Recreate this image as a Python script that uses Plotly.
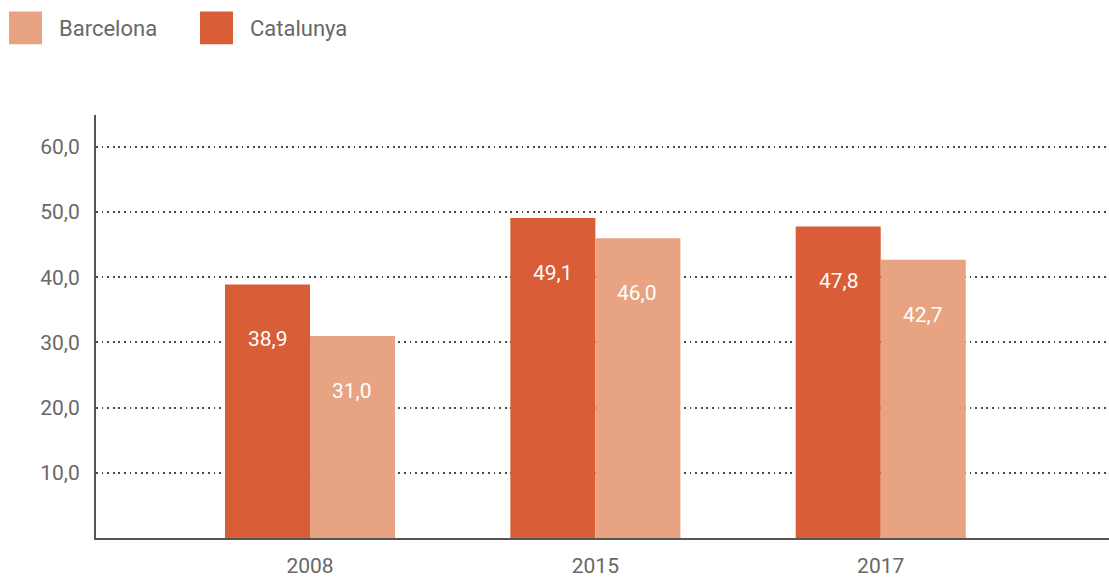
import plotly.graph_objects as go

years = ["2008", "2015", "2017"]
catalunya = [38.9, 49.1, 47.8]
barcelona = [31.0, 46.0, 42.7]
series_names = ["Barcelona", "Catalunya"]
y_ticks = [10, 20, 30, 40, 50, 60]

C_DARK = "#D95D37"
C_LIGHT = "#E8A382"
FONT = "Roboto, Open Sans, sans-serif"
GREY = "#686868"

W, H = 1109, 578
L, T, B = 96, 115, 578 - 540
PW, PH = W - L, H - T - B


def px(xp):
    return (xp - L) / PW


def py(yp):
    return 1 - (yp - T) / PH


fig = go.Figure()
fig.add_trace(go.Bar(x=years, y=catalunya, name="Catalunya", marker_color=C_DARK,
                     marker_line_width=0, showlegend=False))
fig.add_trace(go.Bar(x=years, y=barcelona, name="Barcelona", marker_color=C_LIGHT,
                     marker_line_width=0, showlegend=False))

annotations = []
for i, v in enumerate(catalunya):
    annotations.append(dict(x=i, y=v, xref="x", yref="y", text=f"{v:.1f}".replace(".", ","),
                            showarrow=False, xshift=-42, yshift=-55,
                            font=dict(family=FONT, size=21, color="white")))
for i, v in enumerate(barcelona):
    annotations.append(dict(x=i, y=v, xref="x", yref="y", text=f"{v:.1f}".replace(".", ","),
                            showarrow=False, xshift=42, yshift=-55,
                            font=dict(family=FONT, size=21, color="white")))

# manual legend
shapes = []
leg_colors = [C_LIGHT, C_DARK]
leg_x = [9, 200]
for name, col, lx in zip(series_names, leg_colors, leg_x):
    shapes.append(dict(type="rect", xref="paper", yref="paper",
                       x0=px(lx), x1=px(lx + 33), y0=py(44), y1=py(11),
                       fillcolor=col, line_width=0, layer="above"))
    annotations.append(dict(x=px(lx + 48), y=py(28), xref="paper", yref="paper",
                            text=name, showarrow=False, xanchor="left", yanchor="middle",
                            font=dict(family=FONT, size=22, color=GREY)))

fig.update_layout(
    width=W, height=H,
    margin=dict(l=L, r=0, t=T, b=B, pad=0),
    plot_bgcolor="white", paper_bgcolor="white",
    barmode="group", bargap=0.404, bargroupgap=0,
    separators=",.",
    annotations=annotations, shapes=shapes,
    font=dict(family=FONT, color=GREY),
    xaxis=dict(type="category", range=[-0.75, 2.80], showgrid=False,
               showline=True, linecolor="#555", linewidth=2,
               ticks="", ticklabelstandoff=8, tickfont=dict(size=21, color=GREY)),
    yaxis=dict(range=[0, 64.9], tickvals=y_ticks, tickformat=".1f",
               showgrid=True, gridcolor="#4a4a4a", griddash="1.8px,3.8px", gridwidth=1.5,
               showline=True, linecolor="#555", linewidth=2, zeroline=False,
               ticks="", ticklabelstandoff=10, tickfont=dict(size=21, color=GREY)),
)

fig.write_html("out.html", config={"displayModeBar": False},
               post_script="document.body.style.margin='0';document.body.style.overflow='hidden';")
